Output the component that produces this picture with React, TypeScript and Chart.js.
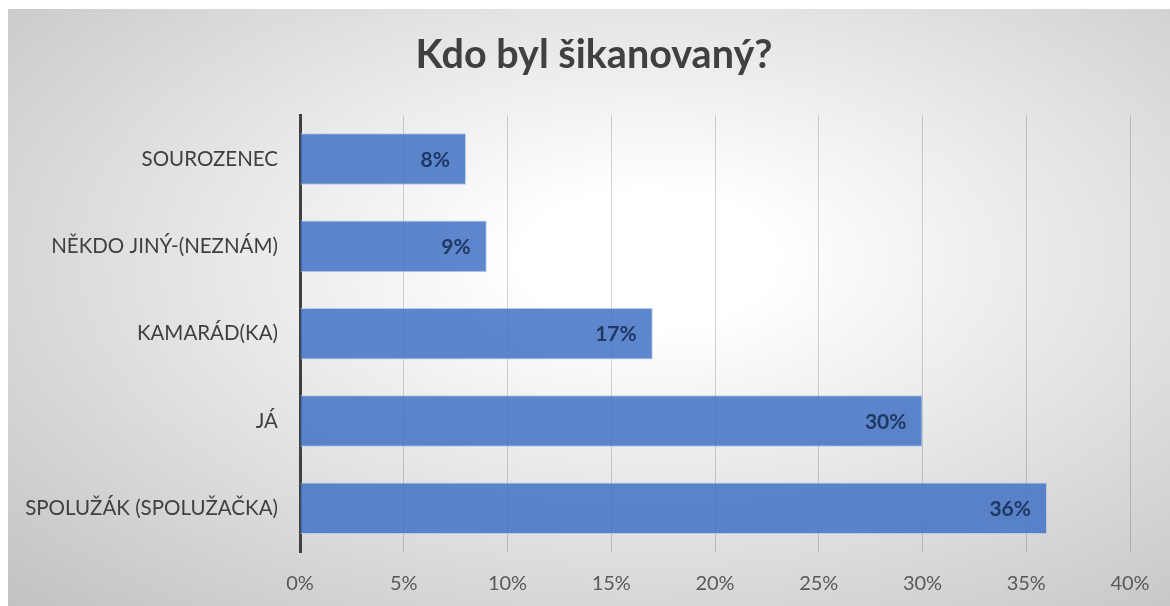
import React, { useEffect, useRef } from "react";
import { Chart, registerables } from "chart.js";

Chart.register(...registerables);

const titleText = "Kdo byl šikanovaný?";
const categories = [
  "SOUROZENEC",
  "NĚKDO JINÝ-(NEZNÁM)",
  "KAMARÁD(KA)",
  "JÁ",
  "SPOLUŽÁK (SPOLUŽAČKA)",
];
const values = [8, 9, 17, 30, 36];
const xTicks = [0, 5, 10, 15, 20, 25, 30, 35, 40];

const FONT = "Lato, 'Open Sans', sans-serif";

const labelPlugin = {
  id: "barLabels",
  afterLayout(chart: any) {
    if (chart.titleBlock) {
      chart.titleBlock.left = 0;
      chart.titleBlock.right = 1172;
    }
  },
  afterDatasetsDraw(chart: any) {
    const ctx = chart.ctx;
    const meta = chart.getDatasetMeta(0);
    ctx.save();
    ctx.font = `bold 21px ${FONT}`;
    ctx.fillStyle = "#1F3864";
    ctx.textAlign = "right";
    ctx.textBaseline = "middle";
    meta.data.forEach((el: any, i: number) => {
      ctx.fillText(values[i] + "%", el.x - 16, el.y + 1);
    });
    ctx.restore();
  },
};

export default function App() {
  const ref = useRef<HTMLCanvasElement>(null);
  useEffect(() => {
    if (!ref.current) return;
    const chart = new Chart(ref.current, {
      type: "bar",
      data: {
        labels: categories,
        datasets: [
          {
            data: values,
            backgroundColor: "rgba(68,114,196,0.86)",
            borderColor: "rgba(180,199,231,0.9)",
            borderWidth: 1,
            barPercentage: 0.59,
            categoryPercentage: 1,
          },
        ],
      },
      options: {
        indexAxis: "y",
        responsive: false,
        animation: false,
        layout: { padding: { left: 0, right: 40, top: 0, bottom: 0 } },
        plugins: {
          legend: { display: false },
          tooltip: { enabled: false },
          title: {
            display: true,
            text: titleText,
            color: "#404040",
            font: { family: FONT, size: 39.5, weight: "bold" },
            padding: { top: 23, bottom: 36 },
          },
        },
        scales: {
          x: {
            min: 0,
            max: 40,
            afterBuildTicks: (scale: any) => {
              scale.ticks = xTicks.map((v) => ({ value: v }));
            },
            afterFit: (scale: any) => {
              scale.height = 54;
            },
            grid: {
              color: "rgba(0,0,0,0.17)",
              lineWidth: 1,
              drawTicks: false,
            },
            border: { display: false },
            ticks: {
              padding: 20,
              color: "#595959",
              font: { family: FONT, size: 20 },
              callback: (v: any) => v + "%",
            },
          },
          y: {
            afterFit: (scale: any) => {
              scale.width = 292;
            },
            grid: { display: false, drawTicks: false },
            border: { display: true, color: "#404040", width: 3 },
            ticks: {
              padding: 22,
              color: "#404040",
              font: { family: FONT, size: 20.5 },
            },
          },
        },
      },
      plugins: [labelPlugin],
    });
    return () => chart.destroy();
  }, []);

  return (
    <div
      style={{
        position: "absolute",
        left: 8,
        top: 9,
        width: 1162,
        height: 597,
        background:
          "radial-gradient(ellipse farthest-corner at 55% 42%, #ffffff 0%, #ffffff 14%, #c2c2c2 100%)",
      }}
    >
      <canvas ref={ref} width={1162} height={597} style={{ display: "block" }} />
    </div>
  );
}
